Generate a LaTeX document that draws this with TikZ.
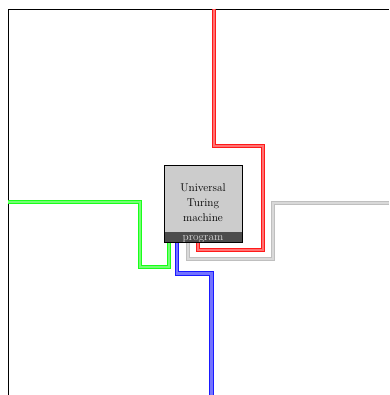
\documentclass[tikz,border=0pt]{standalone}
\begin{document}
\begin{tikzpicture}[x=1pt,y=-1pt,
  wire/.style={line width=1.2pt,double distance=2.2pt},
  redw/.style={wire,draw=red!90,double=red!55},
  greenw/.style={wire,draw=green!90,double=green!55},
  bluew/.style={wire,draw=blue!90,double=blue!55},
  grayw/.style={wire,draw=black!25,double=black!15},
  utm/.style={draw=black,fill=black!20,minimum width=78pt,minimum height=77pt,inner sep=0pt},
  band/.style={fill=black!70,minimum width=78pt,minimum height=10pt,inner sep=0pt},
  frame/.style={line width=0.8pt,draw=black}]
\useasboundingbox (0,0) rectangle (389,395);
\fill[white] (0,0) rectangle (389,395);
\draw[frame] (8,395) -- (8,9) -- (389,9);
\node[utm,anchor=north west] (box) at (164,165) {};
\node[anchor=center,align=center,font=\fontsize{11.3}{15}\selectfont] (lbl) at (203,203) {Universal\\Turing\\machine};
\node[band,anchor=south west] (prog) at (box.south west) {};
\node[text=white!85!black,font=\fontsize{11.3}{12}\selectfont,inner sep=0pt,anchor=base] (progt) at (203,240.5) {program};
\coordinate (rtop) at (214,9);
\coordinate (gleft) at (8,202);
\coordinate (bbot) at (211.5,395);
\coordinate (gright) at (389,203);
\draw[redw] (rtop) |- (263,146) |- (198,250) -- ([xshift=34pt]box.south west);
\draw[greenw] (gleft) -| (140,267) -| ([xshift=5pt]box.south west);
\draw[bluew] ([xshift=13pt]box.south west) |- (211.5,273.5) -- (bbot);
\draw[grayw] (gright) -| (273,259) -| ([xshift=24pt]box.south west);
\draw[black,line width=0.6pt] (box.north west) rectangle (box.south east);
\end{tikzpicture}
\end{document}
